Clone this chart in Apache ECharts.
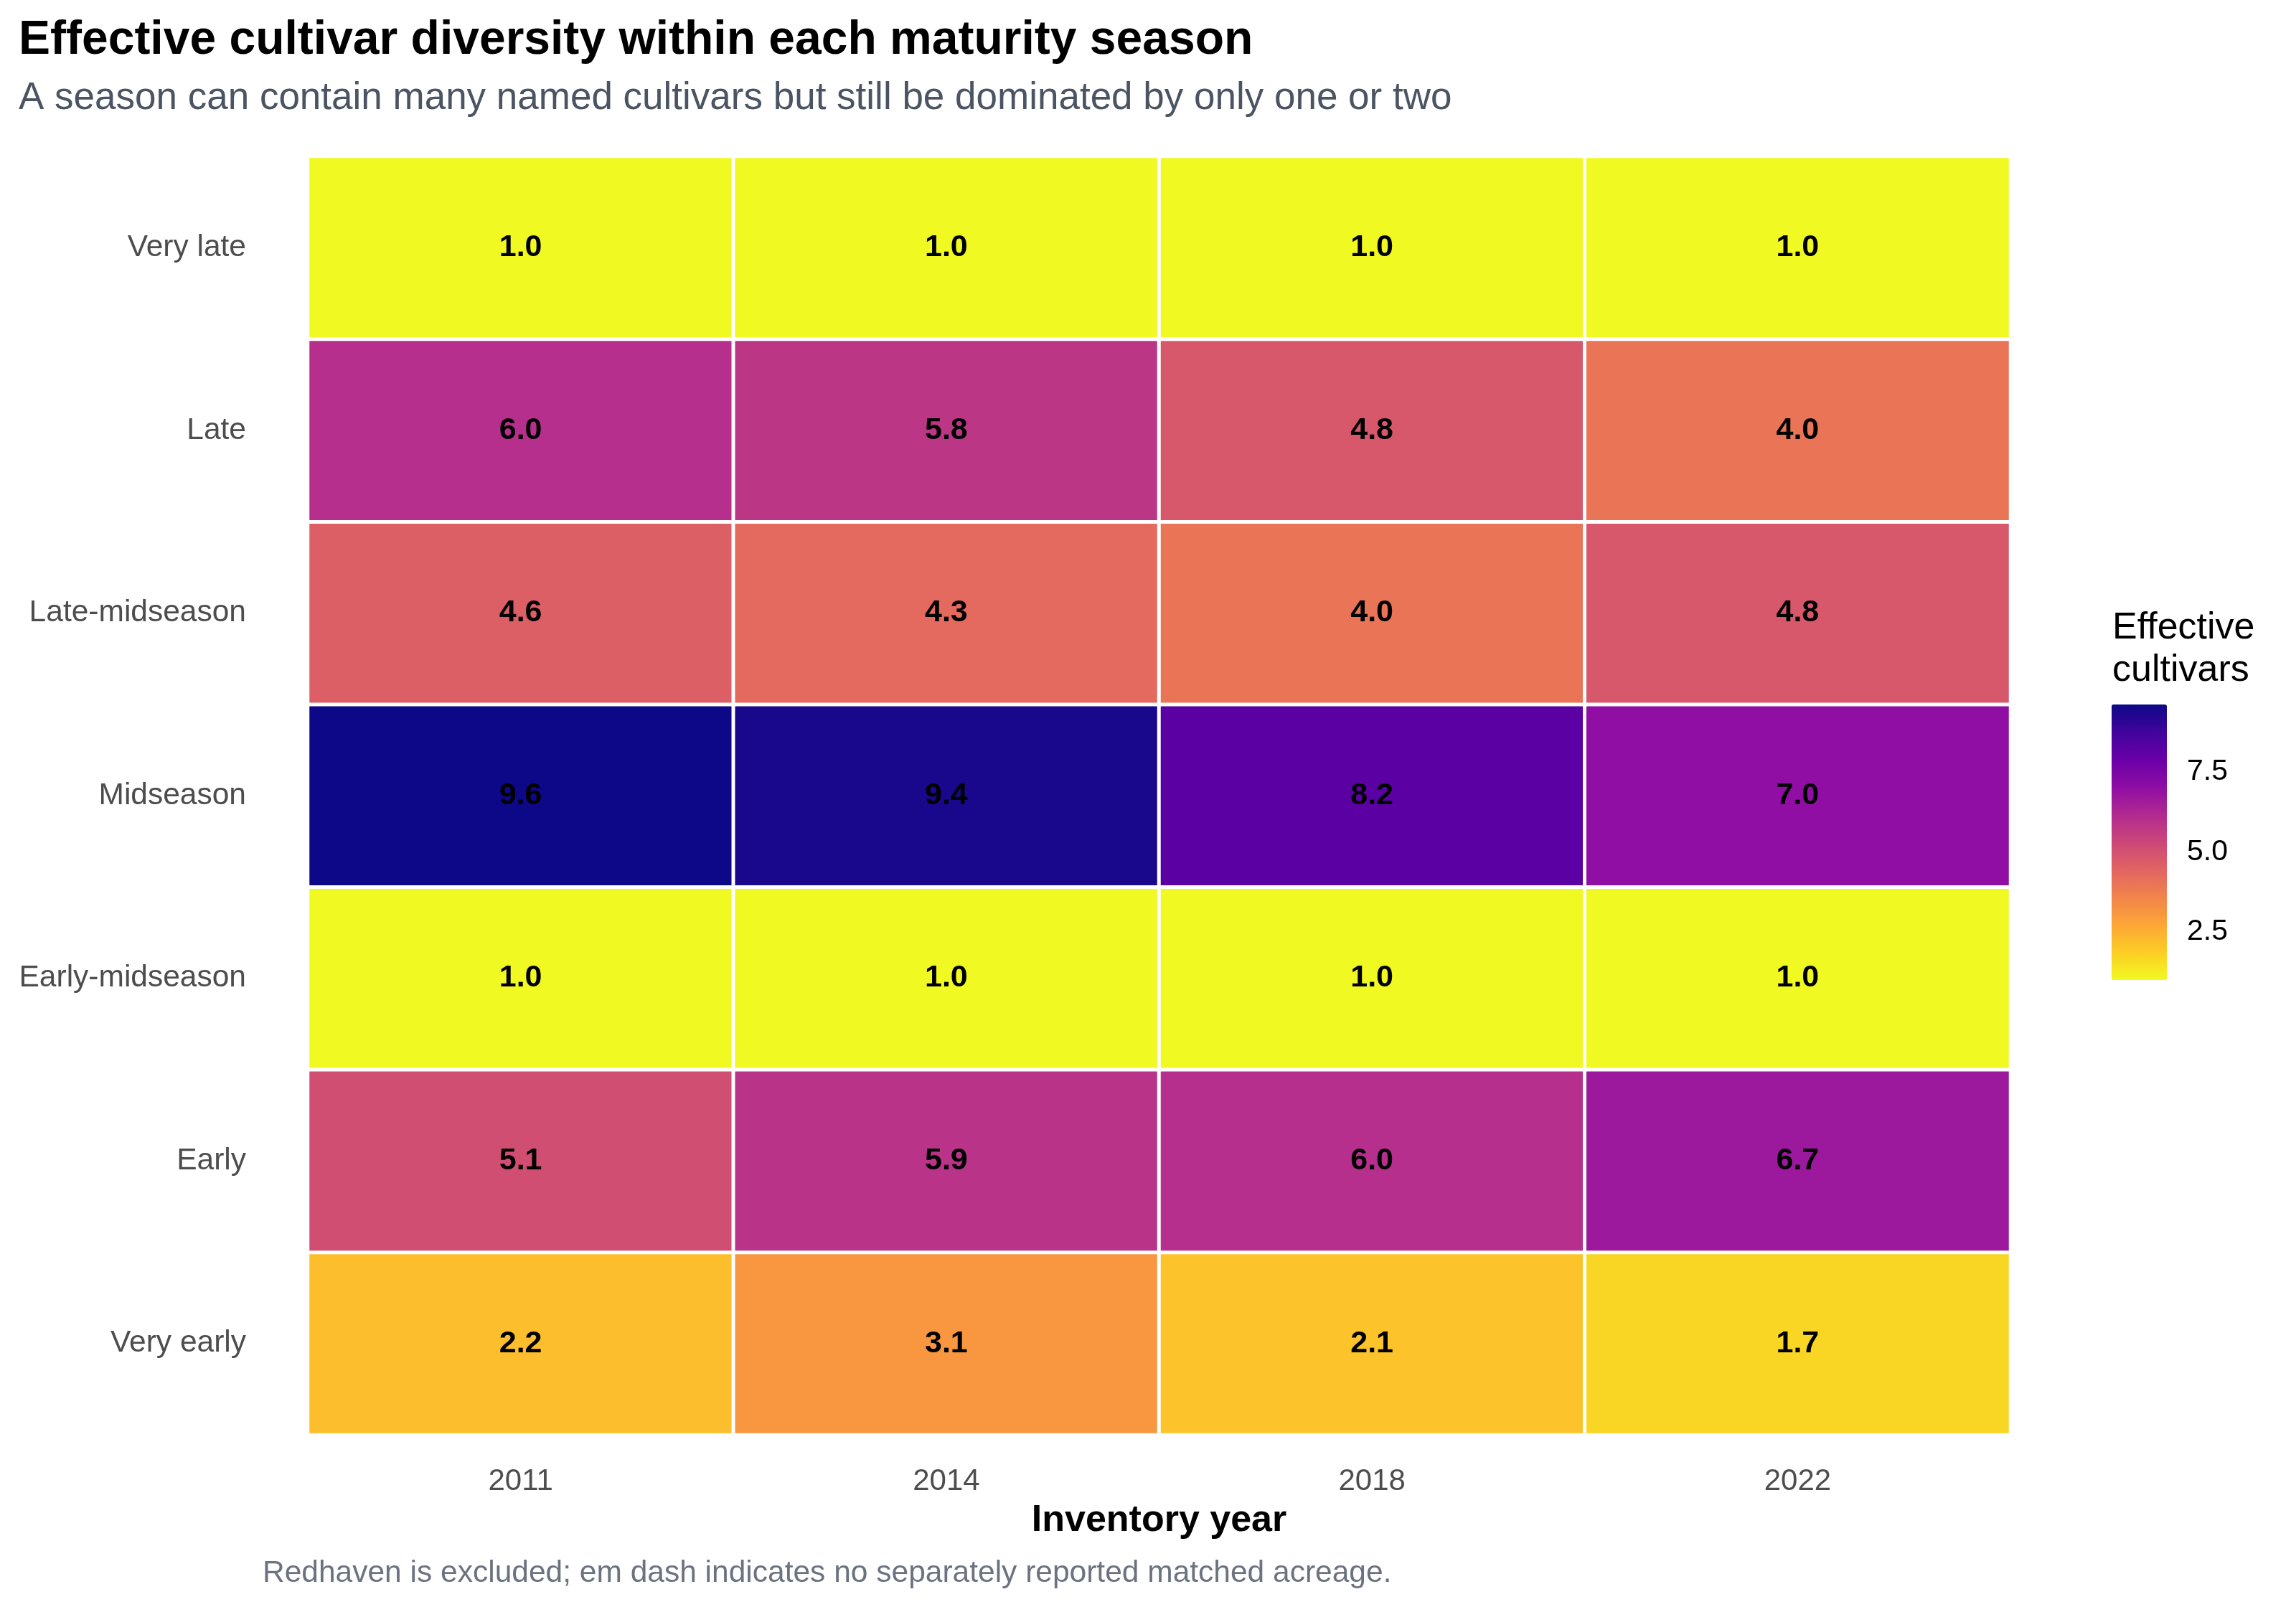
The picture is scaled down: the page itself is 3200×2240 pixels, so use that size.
<!DOCTYPE html>
<html>
<head>
<meta charset="utf-8">
<script src="https://cdn.jsdelivr.net/npm/echarts@6/dist/echarts.min.js"></script>
<style>
  html, body { margin: 0; padding: 0; background: #fff; }
  #main { width: 3200px; height: 2240px; }
</style>
</head>
<body>
<div id="main"></div>
<script>
// seasons, bottom to top as they sit on the y axis
const seasons = ['Very early', 'Early', 'Early-midseason', 'Midseason', 'Late-midseason', 'Late', 'Very late'];
const years = ['2011', '2014', '2018', '2022'];

// effective cultivars per season, one value per year
const veryEarly = [2.2, 3.1, 2.1, 1.7];
const early = [5.1, 5.9, 6.0, 6.7];
const earlyMid = [1.0, 1.0, 1.0, 1.0];
const midseason = [9.6, 9.4, 8.2, 7.0];
const lateMid = [4.6, 4.3, 4.0, 4.8];
const late = [6.0, 5.8, 4.8, 4.0];
const veryLate = [1.0, 1.0, 1.0, 1.0];

const legendTicks = [2.5, 5.0, 7.5];

// plasma reversed: low value = yellow, high value = dark blue
const plasmaRev = ['#f0f921', '#fcce25', '#fca636', '#f2844b', '#e16462', '#cc4778',
                   '#b12a90', '#8f0da4', '#6a00a8', '#41049d', '#0d0887'];

function buildCells(){
    let rows = [veryEarly, early, earlyMid, midseason, lateMid, late, veryLate];
    let cells = [];
    rows.forEach((row, r) => {
        row.forEach((v, c) => {
            cells.push([c, r, v]);
        });
    });
    return cells;
}

const FONT = '"Liberation Sans", Arial, Helvetica, sans-serif';

let myChart = echarts.init(document.getElementById('main'));
let option = {
    backgroundColor: '#ffffff',
    animation: false,
    textStyle: { fontFamily: FONT },
    title: [
        {
            text: 'Effective cultivar diversity within each maturity season',
            left: 26, top: 24,
            padding: 0,
            textStyle: { fontSize: 66, fontWeight: 'bold', color: '#000', lineHeight: 66, fontFamily: FONT }
        },
        {
            text: 'A season can contain many named cultivars but still be dominated by only one or two',
            left: 26, top: 111,
            padding: 0,
            textStyle: { fontSize: 53, fontWeight: 'normal', color: '#4a5462', lineHeight: 53, fontFamily: FONT }
        },
        {
            text: 'Effective\ncultivars',
            left: 2944, top: 846,
            padding: 0,
            textStyle: { fontSize: 52, fontWeight: 'normal', color: '#000', lineHeight: 59, fontFamily: FONT }
        },
        {
            text: 'Redhaven is excluded; em dash indicates no separately reported matched acreage.',
            left: 366, top: 2172,
            padding: 0,
            textStyle: { fontSize: 42.5, fontWeight: 'normal', color: '#6b7280', lineHeight: 42, fontFamily: FONT }
        }
    ],
    grid: [
        { left: 429, right: 398, top: 218, bottom: 240 },
        { left: 2943, top: 982, width: 77, height: 384, show: false }
    ],
    xAxis: [
        {
            type: 'category',
            data: years,
            gridIndex: 0,
            name: 'Inventory year',
            nameLocation: 'middle',
            nameGap: 94,
            nameTextStyle: { fontSize: 52, fontWeight: 'bold', color: '#000', lineHeight: 52 },
            axisLine: { show: false },
            axisTick: { show: false },
            splitLine: { show: false },
            axisLabel: { fontSize: 42, color: '#4d4d4d', margin: 44, lineHeight: 42 }
        },
        {
            type: 'value', gridIndex: 1, show: false, min: 0, max: 1
        }
    ],
    yAxis: [
        {
            type: 'category',
            data: seasons,
            gridIndex: 0,
            axisLine: { show: false },
            axisTick: { show: false },
            splitLine: { show: false },
            axisLabel: { fontSize: 42.5, color: '#4d4d4d', margin: 86 }
        },
        {
            type: 'value', gridIndex: 1, position: 'right',
            min: 1.0, max: 9.6,
            axisLine: { show: false },
            splitLine: { show: false },
            axisTick: { show: true, inside: true, length: 15, customValues: legendTicks,
                        lineStyle: { color: '#ffffff', width: 2 } },
            axisLabel: { show: true, customValues: legendTicks, fontSize: 41, color: '#000', margin: 28,
                         formatter: v => v.toFixed(1) }
        },
        {
            type: 'value', gridIndex: 1, position: 'left',
            min: 1.0, max: 9.6,
            axisLine: { show: false },
            splitLine: { show: false },
            axisTick: { show: true, inside: true, length: 15, customValues: legendTicks,
                        lineStyle: { color: '#ffffff', width: 2 } },
            axisLabel: { show: false }
        }
    ],
    visualMap: {
        type: 'continuous',
        seriesIndex: 0,
        min: 1.0,
        max: 9.6,
        calculable: false,
        left: 2943,
        top: 982,
        itemWidth: 77,
        itemHeight: 384,
        padding: 0,
        text: null,
        showLabel: false,
        inRange: { color: plasmaRev }
    },
    series: [
        {
            type: 'heatmap',
            xAxisIndex: 0,
            yAxisIndex: 0,
            data: buildCells(),
            itemStyle: { borderColor: '#ffffff', borderWidth: 5 },
            label: {
                show: true,
                formatter: p => p.value[2].toFixed(1),
                fontSize: 43,
                fontWeight: 'bold',
                color: '#000'
            },
            emphasis: { disabled: true }
        },
        {
            type: 'line', xAxisIndex: 1, yAxisIndex: 1, data: [], silent: true
        }
    ]
};
myChart.setOption(option);
</script>
</body>
</html>
